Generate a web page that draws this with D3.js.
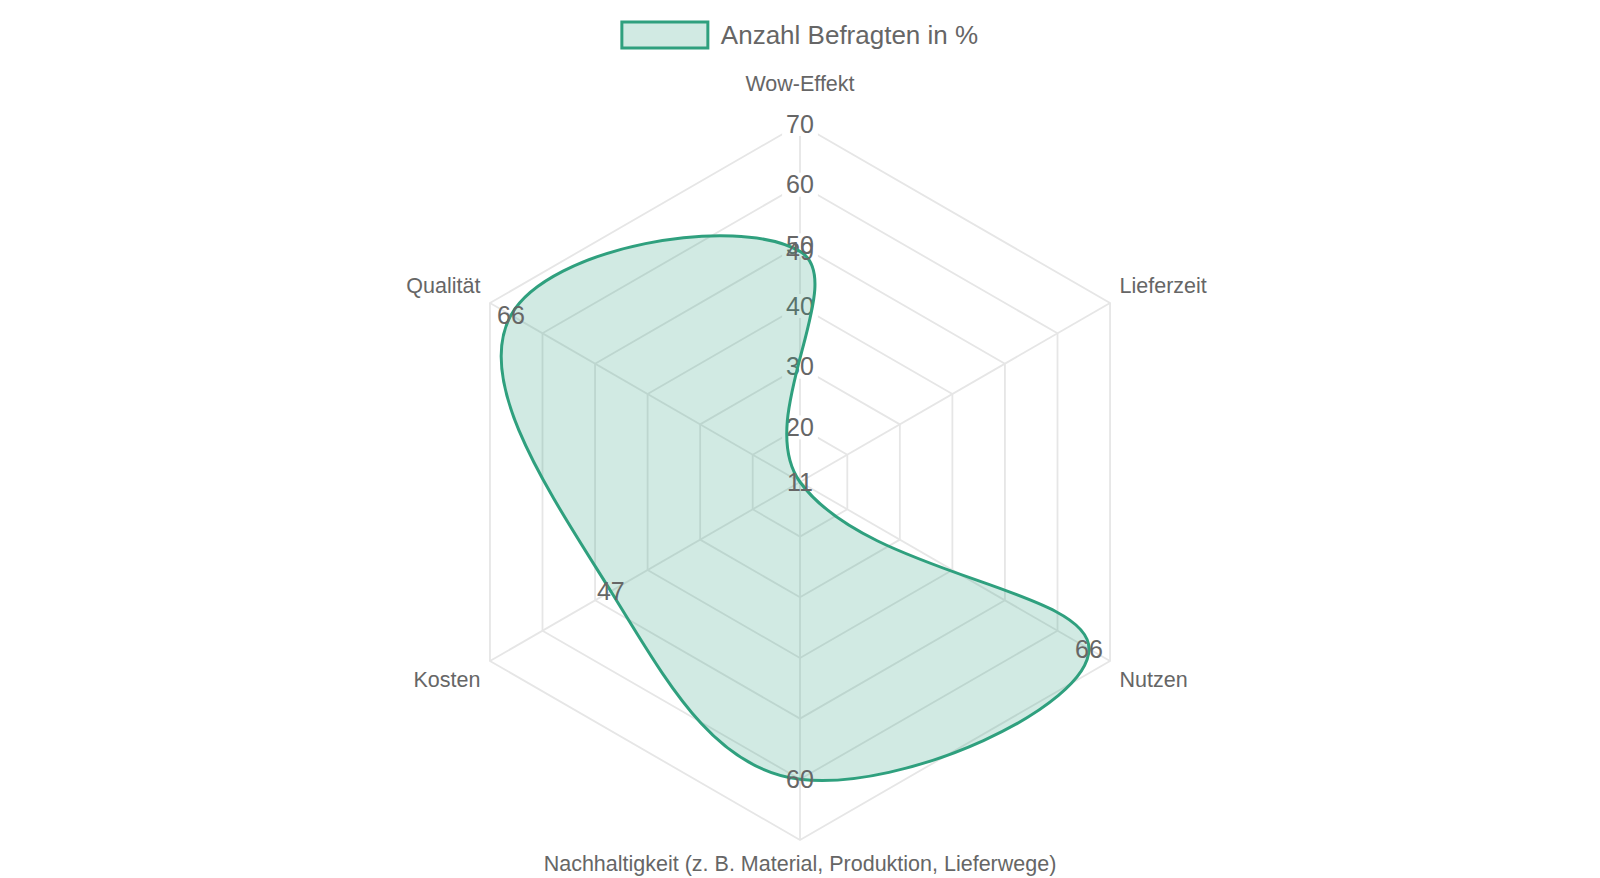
<!DOCTYPE html>
<html>
<head>
<meta charset="utf-8">
<script src="https://cdn.jsdelivr.net/npm/d3@7"></script>
<style>
  html, body { margin: 0; padding: 0; background: #fff; }
  svg { display: block; font-family: "Liberation Sans", Arial, sans-serif; }
</style>
</head>
<body>
<div id="chart"></div>
<script>
// --- Data ---
const categories = ["Wow-Effekt", "Lieferzeit", "Nutzen", "Nachhaltigkeit (z. B. Material, Produktion, Lieferwege)", "Kosten", "Qualität"];
const values = [49, 11, 66, 60, 47, 66];
const tickValues = [11, 20, 30, 40, 50, 60, 70];
const seriesName = "Anzahl Befragten in %";

// --- Setup ---
const width = 1600, height = 878;
const cx = 800, cy = 482, R = 358;
const lineColor = "#2fa07e";
const fillColor = "rgba(47,160,126,0.22)";
const textColor = "#666";
const gridColor = "#e6e6e6";

const svg = d3.select("#chart").append("svg").attr("width", width).attr("height", height);

const r = d3.scaleLinear().domain([11, 70]).range([0, R]);
const angle = d3.scaleLinear().domain([0, categories.length]).range([-Math.PI / 2, 1.5 * Math.PI]);
const pos = (i, rad) => [cx + rad * Math.cos(angle(i)), cy + rad * Math.sin(angle(i))];

// --- Grid rings ---
const grid = svg.append("g");
grid.selectAll("polygon").data(tickValues.slice(1)).join("polygon")
  .attr("points", t => categories.map((c, i) => pos(i, r(t)).join(",")).join(" "))
  .attr("fill", "none").attr("stroke", gridColor).attr("stroke-width", 1.8);

// --- Angle lines ---
grid.selectAll("line").data(categories).join("line")
  .attr("x1", cx).attr("y1", cy)
  .attr("x2", (c, i) => pos(i, R)[0]).attr("y2", (c, i) => pos(i, R)[1])
  .attr("stroke", gridColor).attr("stroke-width", 1.8);

// --- Point labels ---
const plPad = 11;
svg.append("g").selectAll("text").data(categories).join("text")
  .each(function (c, i) {
    const a = angle(i);
    const extra = i === 0 ? 17 : 0;
    const [x, y0] = pos(i, R + plPad + extra);
    const cos = Math.cos(a), sin = Math.sin(a);
    let anchor = "middle";
    if (cos > 0.01) anchor = "start";
    else if (cos < -0.01) anchor = "end";
    // labels below the centre sit a little lower
    const y = sin > 0 ? y0 + 5 : y0;
    const baseline = sin < 0 ? "text-after-edge" : "hanging";
    d3.select(this).attr("x", x).attr("y", y)
      .attr("text-anchor", anchor).attr("dominant-baseline", baseline);
  })
  .attr("font-size", 21.5).attr("fill", textColor)
  .text(c => c);

// --- Tick labels with backdrop ---
const tickG = svg.append("g");
const tickSel = tickG.selectAll("g").data(tickValues.slice(1)).join("g")
  .attr("transform", t => `translate(${cx},${cy - r(t)})`);
tickSel.append("rect");
tickSel.append("text")
  .attr("text-anchor", "middle").attr("dy", "0.35em")
  .attr("font-size", 25).attr("fill", textColor)
  .text(t => t);
tickSel.each(function () {
  const bb = d3.select(this).select("text").node().getBBox();
  d3.select(this).select("rect")
    .attr("x", -bb.width / 2 - 4).attr("y", -12)
    .attr("width", bb.width + 8).attr("height", 24)
    .attr("fill", "#fff");
});

// --- Data curve (Chart.js style spline, tension 0.4) ---
const pts = values.map((v, i) => { const [x, y] = pos(i, r(v)); return { x, y }; });
const tension = 0.4;
const n = pts.length;
pts.forEach((p, i) => {
  const prev = pts[(i - 1 + n) % n], next = pts[(i + 1) % n];
  const d01 = Math.hypot(p.x - prev.x, p.y - prev.y);
  const d12 = Math.hypot(next.x - p.x, next.y - p.y);
  const s01 = d01 / (d01 + d12) || 0, s12 = d12 / (d01 + d12) || 0;
  const fa = tension * s01, fb = tension * s12;
  p.cpPrev = [p.x - fa * (next.x - prev.x), p.y - fa * (next.y - prev.y)];
  p.cpNext = [p.x + fb * (next.x - prev.x), p.y + fb * (next.y - prev.y)];
});
const path = d3.path();
path.moveTo(pts[0].x, pts[0].y);
pts.forEach((p, i) => {
  const q = pts[(i + 1) % n];
  path.bezierCurveTo(p.cpNext[0], p.cpNext[1], q.cpPrev[0], q.cpPrev[1], q.x, q.y);
});
path.closePath();
svg.append("path").attr("d", path.toString())
  .attr("fill", fillColor).attr("stroke", lineColor).attr("stroke-width", 3);

// --- Data labels ---
svg.append("g").selectAll("text").data(pts).join("text")
  .attr("x", p => p.x).attr("y", p => p.y).attr("dy", "0.35em")
  .attr("text-anchor", "middle").attr("font-size", 25).attr("fill", textColor)
  .text((p, i) => values[i]);

// --- Legend ---
const legend = svg.append("g");
const legText = legend.append("text").attr("font-size", 26).attr("fill", textColor)
  .attr("dy", "0.35em").text(seriesName);
const tw = legText.node().getComputedTextLength();
const boxW = 86, boxH = 26, gap = 13;
const lx = cx - (boxW + gap + tw) / 2;
legend.insert("rect", "text")
  .attr("x", lx).attr("y", 35 - boxH / 2).attr("width", boxW).attr("height", boxH)
  .attr("fill", fillColor).attr("stroke", lineColor).attr("stroke-width", 3);
legText.attr("x", lx + boxW + gap).attr("y", 35);
</script>
</body>
</html>
